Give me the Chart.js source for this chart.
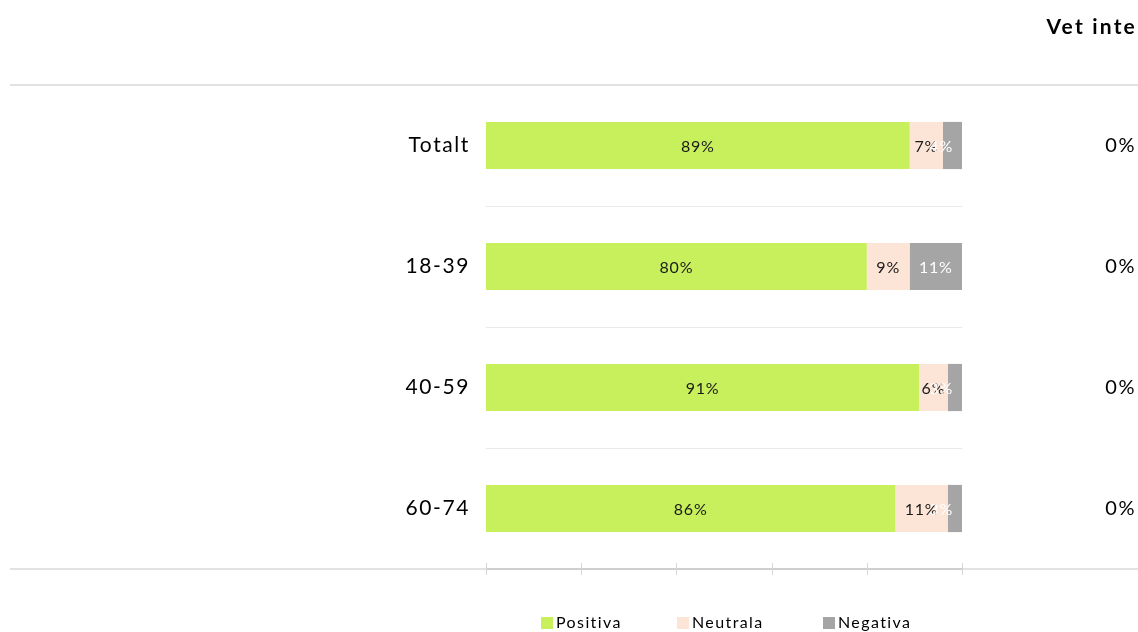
<!DOCTYPE html>
<html lang="sv">
<head>
<meta charset="utf-8">
<title>Positiva, neutrala och negativa per åldersgrupp</title>
<script src="https://cdn.jsdelivr.net/npm/chart.js@4.4.1/dist/chart.umd.min.js"></script>
<style>
  html, body { margin: 0; padding: 0; background: #fff; overflow: hidden; }
  #wrap { width: 1138px; height: 632px; position: relative; }
</style>
</head>
<body>
<div id="wrap"><canvas id="chart"></canvas></div>
<script>
// ── Data ──
const kategorier = ['Totalt', '18-39', '40-59', '60-74'];
const positiva   = [89, 80, 91, 86];
const neutrala   = [7, 9, 6, 11];
const negativa   = [4, 11, 3, 3];
const vetInte    = [0, 0, 0, 0];
const axelTicks  = [0, 20, 40, 60, 80, 100];

const FONT = 'Lato, "Open Sans", sans-serif';
const farger = { pos: '#c8ef5c', neu: '#fce4d6', neg: '#a5a5a5' };

// ── Ram, axel, "Vet inte"-kolumn och förklaring ──
const ramPlugin = {
  id: 'ram',
  beforeDraw(chart) { chart.ctx.letterSpacing = '1.6px'; },
  afterDraw(chart) {
    const { ctx, chartArea: a, scales: { x, y } } = chart;
    ctx.save();
    const linje = (x1, y1, x2, y2) => { ctx.beginPath(); ctx.moveTo(x1, y1); ctx.lineTo(x2, y2); ctx.stroke(); };

    // övre och nedre linje över hela bredden
    ctx.lineWidth = 2;
    ctx.strokeStyle = '#e2e2e2';
    linje(10, a.top, chart.width, a.top);
    linje(10, a.bottom, chart.width, a.bottom);
    ctx.strokeStyle = '#cfcfcf';
    linje(a.left, a.bottom, a.right, a.bottom);

    // skalstreck
    ctx.lineWidth = 1;
    ctx.strokeStyle = '#d6d6d6';
    axelTicks.forEach(v => {
      const px = Math.round(x.getPixelForValue(v)) + 0.5;
      linje(px, a.bottom - 6, px, a.bottom + 6);
    });

    // Vet inte
    ctx.fillStyle = '#000';
    ctx.textAlign = 'right';
    ctx.textBaseline = 'middle';
    ctx.letterSpacing = '1.5px';
    ctx.font = '20px ' + FONT;
    vetInte.forEach((v, i) => ctx.fillText(v + '%', 1136, y.getPixelForValue(i)));
    ctx.font = 'bold 21px ' + FONT;
    ctx.letterSpacing = '2.2px';
    ctx.fillText('Vet inte', 1137, 27);

    // förklaring
    ctx.textAlign = 'left';
    ctx.font = '16px ' + FONT;
    ctx.letterSpacing = '1.4px';
    const startX = [541, 677, 823];
    chart.data.datasets.forEach((ds, i) => {
      ctx.fillStyle = ds.backgroundColor;
      ctx.fillRect(startX[i], 617, 12, 12);
      ctx.fillStyle = '#000';
      ctx.fillText(ds.label, startX[i] + 15, 623);
    });
    ctx.restore();
  }
};

// ── Procentetiketter i staplarna (hålls innanför högerkanten) ──
const etikettPlugin = {
  id: 'etiketter',
  afterDatasetsDraw(chart) {
    const { ctx, chartArea: a } = chart;
    ctx.save();
    ctx.font = '16px ' + FONT;
    ctx.letterSpacing = '0.8px';
    ctx.textAlign = 'center';
    ctx.textBaseline = 'middle';
    chart.data.datasets.forEach((ds, di) => {
      const meta = chart.getDatasetMeta(di);
      ctx.fillStyle = ds.labelColor;
      meta.data.forEach((bar, i) => {
        const txt = ds.data[i] + '%';
        const w = ctx.measureText(txt).width;
        const p = bar.getCenterPoint();
        const px = Math.min(p.x, a.right - 9 - w / 2);
        ctx.fillText(txt, px, p.y + 1);
      });
    });
    ctx.restore();
  }
};

new Chart(document.getElementById('chart'), {
  type: 'bar',
  data: {
    labels: kategorier,
    datasets: [
      { label: 'Positiva', data: positiva, backgroundColor: farger.pos, labelColor: '#1a1a1a' },
      { label: 'Neutrala', data: neutrala, backgroundColor: farger.neu, labelColor: '#1a1a1a' },
      { label: 'Negativa', data: negativa, backgroundColor: farger.neg, labelColor: '#ffffff' }
    ]
  },
  options: {
    indexAxis: 'y',
    responsive: true,
    maintainAspectRatio: false,
    animation: false,
    layout: { padding: { top: 85, left: 10, right: 176, bottom: 63 } },
    datasets: { bar: { categoryPercentage: 1, barPercentage: 0.39, borderWidth: 0 } },
    plugins: { legend: { display: false }, tooltip: { enabled: false } },
    scales: {
      x: { stacked: true, min: 0, max: 100, display: false },
      y: {
        stacked: true,
        afterFit(s) { s.width = 476; },
        border: { display: false },
        grid: {
          drawTicks: false,
          lineWidth: 1,
          color: c => (c.index === 0 || c.index === kategorier.length) ? 'rgba(0,0,0,0)' : '#e9e9e9'
        },
        ticks: { color: '#000', padding: 16, font: { family: FONT, size: 21 } }
      }
    }
  },
  plugins: [ramPlugin, etikettPlugin]
});
</script>
</body>
</html>
